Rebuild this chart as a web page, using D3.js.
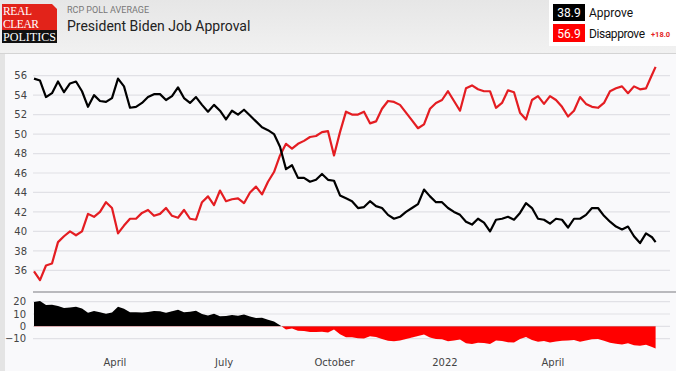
<!DOCTYPE html>
<html>
<head>
<meta charset="utf-8">
<script src="https://cdn.jsdelivr.net/npm/d3@7"></script>
<style>
	body { margin: 0; background: #f9f9fb; }
	svg { display: block; }
	.tick line, .domain { display: none; }
</style>
</head>
<body>
<svg id="svgarea" width="676" height="371"></svg>
<script>
// poll averages, one value every 5 days from startDate, last one on lastDate
const startDate		= '2021-01-24';
const stepDays		= 5;
const lastDate		= '2022-06-26';
const approve		= [
	55.7, 55.5, 53.8, 54.2, 55.4, 54.3, 55.2, 55.4, 54.4, 52.8,
	54.0, 53.4, 53.3, 53.7, 55.7, 54.9, 52.7, 52.8, 53.2, 53.8,
	54.1, 54.1, 53.5, 53.9, 54.8, 53.7, 53.2, 53.8, 53.0, 52.3,
	53.0, 52.4, 51.5, 52.4, 52.0, 52.5, 51.9, 51.3, 50.7, 50.4,
	50.0, 48.7, 46.4, 46.8, 45.5, 45.5, 45.1, 45.3, 45.9, 45.3,
	45.2, 43.7, 43.4, 43.1, 42.4, 42.5, 43.1, 42.6, 42.4, 41.7,
	41.3, 41.5, 42.0, 42.4, 42.8, 44.3, 43.6, 43.0, 43.0, 42.4,
	42.0, 41.7, 41.0, 40.7, 41.3, 40.9, 40.0, 41.2, 41.3, 41.5,
	41.2, 41.9, 42.9, 42.4, 41.3, 41.2, 40.8, 41.3, 41.2, 40.4,
	41.3, 41.3, 41.7, 42.4, 42.4, 41.6, 41.0, 40.5, 40.2, 40.5,
	39.5, 38.8, 39.8, 39.4, 38.9
];
const disapprove	= [
	35.9, 35.0, 36.5, 36.7, 38.9, 39.5, 40.0, 39.6, 40.0, 41.8,
	41.5, 42.0, 43.0, 42.4, 39.8, 40.6, 41.3, 41.3, 41.9, 42.2,
	41.6, 41.8, 42.4, 41.6, 41.4, 42.2, 41.3, 41.2, 43.0, 43.6,
	42.7, 44.2, 43.1, 43.3, 43.4, 42.9, 44.0, 44.6, 43.8, 45.1,
	46.1, 47.8, 49.0, 48.5, 49.0, 49.3, 49.7, 49.8, 50.2, 50.3,
	47.8, 50.2, 52.3, 52.0, 52.0, 52.3, 51.1, 51.3, 52.6, 53.4,
	53.3, 53.0, 52.2, 51.4, 50.6, 51.0, 52.6, 53.2, 53.5, 54.4,
	53.4, 52.4, 54.7, 55.0, 54.6, 54.4, 54.4, 52.7, 53.2, 54.5,
	54.3, 52.2, 51.5, 53.5, 53.9, 53.1, 53.9, 53.5, 52.8, 51.8,
	52.4, 53.8, 53.1, 52.8, 52.7, 53.2, 54.4, 54.7, 54.9, 54.2,
	54.9, 54.6, 54.7, 56.1, 56.9
];
const mainTicks		= [36, 38, 40, 42, 44, 46, 48, 50, 52, 54, 56];
const spreadTicks	= [20, 10, 0, -10];
const xTicks		= ['2021-04-01', '2021-07-01', '2021-10-01', '2022-01-01', '2022-04-01'];
const xTickLabels	= ['April', 'July', 'October', '2022', 'April'];

const red			= '#e41d22';
const axisFont		= '"DejaVu Sans", Verdana, sans-serif';
const headFont		= 'Roboto, "Liberation Sans", Arial, sans-serif';

var svg = d3.select('#svgarea');
var parse = d3.timeParse('%Y-%m-%d');

var rows = approve.map(function(a, i){
	var date = i < approve.length - 1 ? d3.timeDay.offset(parse(startDate), i * stepDays) : parse(lastDate);
	return {date: date, approve: a, disapprove: disapprove[i], spread: a - disapprove[i]};
});

var x = d3.scaleTime().domain([parse('2021-01-24'), parse('2022-07-08')]).range([34, 670]);
var y = d3.scaleLinear().domain([34, 58]).range([289.8, 56.2]);
var y2 = d3.scaleLinear().domain([-20, 25]).range([351, 295.5]);

/**
 * Header band: logo, titles and the latest values box
 */
function drawHeader(){
	var grad = svg.append('defs').append('linearGradient').attr('id', 'head-grad').
		attr('x1', 0).attr('y1', 0).attr('x2', 0).attr('y2', 1);
	grad.append('stop').attr('offset', '0%').attr('stop-color', '#e6e6e6');
	grad.append('stop').attr('offset', '100%').attr('stop-color', '#f1f1f1');
	svg.append('rect').attr('x', 0).attr('y', 0).attr('width', 676).attr('height', 53).attr('fill', 'url(#head-grad)');
	svg.append('line').attr('x1', 0).attr('x2', 676).attr('y1', 53.5).attr('y2', 53.5).attr('stroke', '#d4d4d4');
	svg.append('rect').attr('x', 0).attr('y', 54).attr('width', 5).attr('height', 317).attr('fill', '#e4e4e4');

	// logo
	svg.append('path').attr('d', 'M2,4 H52 L57,9 V30 H2 Z').attr('fill', '#e2231a');
	svg.append('rect').attr('x', 2).attr('y', 30).attr('width', 55).attr('height', 13).attr('fill', '#111');
	var logo = svg.append('g').attr('font-family', '"Liberation Serif", "DejaVu Serif", serif').attr('fill', '#fff').attr('font-size', 11.5);
	logo.append('text').attr('x', 3).attr('y', 15).attr('textLength', 29).text('REAL');
	logo.append('text').attr('x', 3).attr('y', 27.5).attr('textLength', 36).text('CLEAR');
	logo.append('text').attr('x', 3).attr('y', 41).attr('textLength', 53).attr('lengthAdjust', 'spacingAndGlyphs').text('POLITICS');

	svg.append('text').attr('x', 67).attr('y', 13).attr('font-family', headFont).attr('font-size', 9).
		attr('fill', '#777').text('RCP POLL AVERAGE');
	svg.append('text').attr('x', 67).attr('y', 31).attr('font-family', headFont).attr('font-size', 14).
		attr('fill', '#222').text('President Biden Job Approval');

	// latest values
	var last = rows[rows.length - 1];
	var box = svg.append('g').attr('font-family', headFont);
	box.append('rect').attr('x', 549).attr('y', 0).attr('width', 127).attr('height', 46).attr('fill', '#fff');
	box.append('rect').attr('x', 553).attr('y', 4).attr('width', 32).attr('height', 17).attr('fill', '#000');
	box.append('rect').attr('x', 553).attr('y', 24).attr('width', 32).attr('height', 18).attr('fill', '#f00');
	box.append('text').attr('x', 569).attr('y', 17).attr('text-anchor', 'middle').attr('fill', '#fff').
		attr('font-size', 12).text(last.approve.toFixed(1));
	box.append('text').attr('x', 569).attr('y', 37.5).attr('text-anchor', 'middle').attr('fill', '#fff').
		attr('font-size', 12).text(last.disapprove.toFixed(1));
	box.append('text').attr('x', 589).attr('y', 17).attr('font-size', 12).attr('fill', '#111').text('Approve');
	box.append('text').attr('x', 589).attr('y', 37.5).attr('font-size', 12).attr('fill', '#111').
		attr('textLength', 56).text('Disapprove');
	box.append('text').attr('x', 651).attr('y', 37).attr('font-size', 7.5).attr('font-weight', 'bold').
		attr('fill', red).text('+' + (-last.spread).toFixed(1));
}

/**
 * Upper chart: approve and disapprove lines
 */
function drawMain(){
	var g = svg.append('g');
	g.selectAll('.grid').data(mainTicks).enter().append('line').
		attr('x1', 33).attr('x2', 670).
		attr('y1', function(d){ return y(d); }).
		attr('y2', function(d){ return y(d); }).
		attr('stroke', '#e1e1e6').attr('stroke-width', 1.2);

	var axis = g.append('g').attr('transform', 'translate(27,0)').
		call(d3.axisLeft(y).tickValues(mainTicks).tickSize(0).tickPadding(0));
	axis.selectAll('text').attr('font-family', axisFont).attr('font-size', 10).attr('fill', '#444');

	var line = d3.line().x(function(d){ return x(d.date); });
	g.append('path').datum(rows).
		attr('d', line.y(function(d){ return y(d.disapprove); })).
		attr('fill', 'none').attr('stroke', red).attr('stroke-width', 2.2).attr('stroke-linejoin', 'round');
	g.append('path').datum(rows).
		attr('d', line.y(function(d){ return y(d.approve); })).
		attr('fill', 'none').attr('stroke', '#000').attr('stroke-width', 2.2).attr('stroke-linejoin', 'round');

	g.append('line').attr('x1', 33).attr('x2', 676).attr('y1', 292).attr('y2', 292).
		attr('stroke', '#b9b9bd').attr('stroke-width', 2);
}

/**
 * Lower chart: spread area, black above zero and red below
 */
function drawSpread(){
	var g = svg.append('g');
	var defs = svg.select('defs');
	defs.append('clipPath').attr('id', 'cut-pos').append('rect').
		attr('x', 0).attr('y', 293).attr('width', 676).attr('height', y2(0) - 293);
	defs.append('clipPath').attr('id', 'cut-neg').append('rect').
		attr('x', 0).attr('y', y2(0)).attr('width', 676).attr('height', 360 - y2(0));

	g.selectAll('.grid').data(spreadTicks).enter().append('line').
		attr('x1', 33).attr('x2', 670).
		attr('y1', function(d){ return y2(d); }).
		attr('y2', function(d){ return y2(d); }).
		attr('stroke', '#e1e1e6').attr('stroke-width', 1.2);

	var axis = g.append('g').attr('transform', 'translate(26,0)').
		call(d3.axisLeft(y2).tickValues(spreadTicks).tickSize(0).tickPadding(0));
	axis.selectAll('text').attr('font-family', axisFont).attr('font-size', 10).attr('fill', '#444');

	var area = d3.area().
		x(function(d){ return x(d.date); }).
		y0(y2(0)).
		y1(function(d){ return y2(d.spread); });
	g.append('path').datum(rows).attr('d', area).attr('fill', '#000').attr('clip-path', 'url(#cut-pos)');
	g.append('path').datum(rows).attr('d', area).attr('fill', '#f00').attr('clip-path', 'url(#cut-neg)');

	var xAxis = g.append('g').attr('transform', 'translate(0,359)').
		call(d3.axisBottom(x).tickValues(xTicks.map(parse)).tickSize(0).tickPadding(0).
			tickFormat(function(d, i){ return xTickLabels[i]; }));
	xAxis.selectAll('text').attr('font-family', axisFont).attr('font-size', 10).attr('fill', '#444');
}

drawHeader();
drawMain();
drawSpread();
</script>
</body>
</html>
